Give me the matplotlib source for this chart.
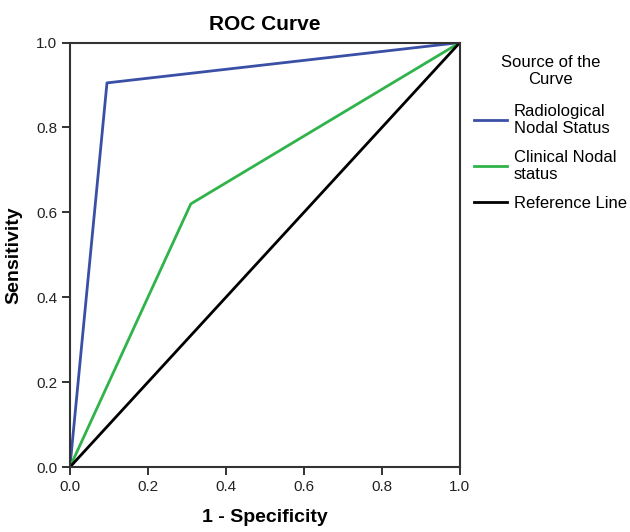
import matplotlib
matplotlib.use('Agg')
import matplotlib.pyplot as plt

plt.rcParams['font.family'] = ['Liberation Sans', 'DejaVu Sans']

# ROC points (1 - specificity, sensitivity)
radio_fpr = [0.0, 0.095, 1.0]
radio_tpr = [0.0, 0.905, 1.0]
clin_fpr = [0.0, 0.31, 1.0]
clin_tpr = [0.0, 0.62, 1.0]
ref_x = [0.0, 1.0]
ref_y = [0.0, 1.0]
ticks = [0.0, 0.2, 0.4, 0.6, 0.8, 1.0]

fig = plt.figure(figsize=(6.3, 5.32), dpi=100)
ax = fig.add_axes([0.111, 0.122, 0.619, 0.798])

ax.plot(radio_fpr, radio_tpr, color='#3a4fa6', lw=2, label='Radiological\nNodal Status')
ax.plot(clin_fpr, clin_tpr, color='#2fb34a', lw=2, label='Clinical Nodal\nstatus')
ax.plot(ref_x, ref_y, color='black', lw=2, label='Reference Line')

ax.set_xlim(0, 1)
ax.set_ylim(0, 1)
ax.set_xticks(ticks)
ax.set_yticks(ticks)
ax.set_xticklabels([f'{t:.1f}' for t in ticks])
ax.set_yticklabels([f'{t:.1f}' for t in ticks])
ax.tick_params(direction='out', length=6, width=1.3, labelsize=11, colors='#222222', pad=3)
for s in ax.spines.values():
    s.set_linewidth(1.5)
    s.set_color('#333333')

ax.set_title('ROC Curve', fontsize=15, fontweight='bold', pad=9)
ax.set_xlabel('1 - Specificity', fontsize=14, fontweight='bold', labelpad=11)
ax.set_ylabel('Sensitivity', fontsize=14, fontweight='bold', labelpad=10)

leg = ax.legend(loc='upper left', bbox_to_anchor=(474 / 630, 1 - 55 / 532),
                bbox_transform=fig.transFigure, frameon=False,
                title='Source of the\nCurve', fontsize=12, title_fontsize=12,
                handlelength=2.0, handletextpad=0.4, labelspacing=0.8,
                borderaxespad=0, borderpad=0)
leg._legend_box.align = 'center'
leg._legend_box.sep = 12
leg.get_title().set_multialignment('center')

fig.savefig('out.png', dpi=100)
